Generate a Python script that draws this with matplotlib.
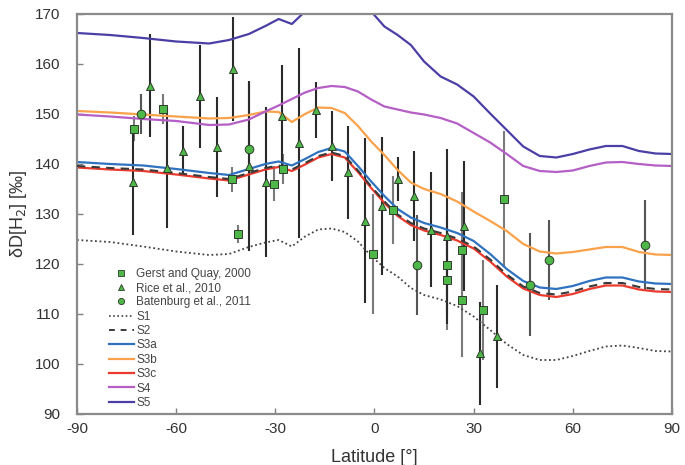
import matplotlib
matplotlib.use('Agg')
import matplotlib.pyplot as plt
from matplotlib.lines import Line2D
import numpy as np

plt.rcParams['font.family'] = ['Liberation Sans Narrow', 'Liberation Sans', 'DejaVu Sans']
plt.rcParams['axes.unicode_minus'] = False

# model latitude grid
lat = [-90, -80, -70, -60, -50, -44, -38, -33, -29, -25, -21, -17, -13, -9, -5, -1,
       3, 7, 11, 15, 20, 25, 30, 35, 40, 45, 50, 55, 60, 65, 70, 75, 80, 85, 90]

s1 = [124.8, 124.4, 123.5, 122.5, 121.8, 122.0, 123.4, 124.3, 124.8, 123.5, 125.5, 126.9,
      127.1, 126.4, 124.5, 121.6, 119.2, 117.5, 115.2, 113.8, 112.9, 111.6, 109.5, 106.8,
      104.0, 101.8, 100.8, 100.8, 101.6, 102.6, 103.5, 103.7, 103.2, 102.6, 102.5]
s2 = [139.6, 139.2, 138.9, 138.2, 137.4, 137.0, 138.2, 139.2, 139.7, 138.9, 140.2, 141.6,
      142.3, 141.6, 138.7, 135.5, 132.5, 129.9, 128.2, 127.1, 126.2, 125.1, 123.5, 120.9,
      117.9, 115.5, 114.2, 113.9, 114.5, 115.5, 116.2, 116.2, 115.4, 115.0, 114.9]
s3a = [140.4, 140.0, 139.7, 139.0, 138.2, 137.8, 139.0, 140.0, 140.5, 139.7, 141.0, 142.4,
       143.2, 142.5, 139.6, 136.5, 133.6, 131.0, 129.3, 128.2, 127.3, 126.2, 124.6, 122.0,
       119.0, 116.6, 115.3, 115.0, 115.6, 116.6, 117.3, 117.3, 116.5, 116.1, 116.0]
s3b = [150.6, 150.3, 149.9, 149.5, 149.1, 149.2, 149.8, 150.5, 150.4, 148.4, 150.0, 151.3,
       151.2, 150.2, 147.6, 144.5, 141.8, 138.8, 136.3, 135.0, 134.0, 132.5, 130.5, 128.6,
       126.6, 124.0, 122.5, 122.1, 122.4, 122.9, 123.4, 123.4, 122.4, 121.9, 121.8]
s3c = [139.3, 138.9, 138.6, 137.9, 137.1, 136.7, 137.9, 138.9, 139.4, 138.6, 139.9, 141.3,
       142.0, 141.3, 138.4, 135.2, 132.2, 129.6, 127.8, 126.7, 125.8, 124.7, 123.1, 120.5,
       117.5, 115.1, 113.8, 113.4, 114.0, 115.0, 115.7, 115.7, 114.9, 114.5, 114.4]
s4 = [149.9, 149.5, 149.0, 148.6, 147.8, 147.9, 148.9, 150.5, 151.7, 153.0, 154.3, 155.2,
      155.6, 155.4, 154.5, 152.9, 151.5, 150.9, 150.3, 149.9, 149.2, 148.1, 146.2, 144.3,
      142.0, 139.6, 138.6, 138.4, 138.7, 139.6, 140.3, 140.4, 140.0, 139.7, 139.6]
s5 = [166.2, 165.8, 165.2, 164.5, 164.1, 164.8, 166.0, 167.6, 169.0, 168.0, 170.5, 173.0,
      175.0, 175.0, 173.0, 170.5, 167.5, 165.8, 163.8, 160.5, 157.5, 155.9, 153.5, 150.1,
      146.8, 143.5, 141.6, 141.3, 142.0, 142.9, 143.6, 143.6, 142.6, 142.1, 142.0]

# observations
gq_lat = [-72.8, -64.0, -43.2, -41.4, -30.4, -27.6, -0.3, 5.7, 21.8, 21.8, 26.4, 26.4, 32.9, 39.2]
gq_val = [147.0, 151.0, 136.9, 125.9, 136.0, 138.9, 121.9, 130.8, 119.8, 116.8, 122.8, 112.8, 110.8, 132.9]
gq_err = [2.5, 3.0, 2.5, 1.8, 3.5, 3.0, 12.0, 6.8, 10.0, 10.0, 11.5, 11.5, 10.0, 13.6]

rice_lat = [-73.0, -67.9, -62.9, -57.8, -52.8, -47.7, -42.7, -37.9, -32.8, -27.9, -22.8, -17.8,
            -12.8, -7.9, -2.9, 2.2, 7.2, 12.0, 17.1, 22.0, 27.1, 31.9, 37.0]
rice_val = [136.3, 155.6, 139.1, 142.5, 153.5, 143.3, 159.0, 139.5, 136.3, 149.6, 144.1, 150.8,
            143.5, 138.3, 128.6, 131.5, 136.9, 133.6, 126.8, 125.5, 127.6, 102.1, 105.5]
rice_err = [10.5, 10.3, 12.0, 5.0, 10.3, 10.0, 10.4, 17.0, 15.0, 10.2, 19.0, 5.6,
            7.0, 9.3, 16.5, 13.8, 4.4, 9.0, 11.5, 17.5, 13.0, 10.3, 10.3]

bat_lat = [-70.6, -37.9, 13.0, 47.0, 52.8, 81.8]
bat_val = [149.9, 142.9, 119.8, 115.8, 120.8, 123.8]
bat_err = [4.0, 13.5, 10.0, 10.3, 8.0, 9.0]

green = '#4db848'
edge = '#2f3a2c'

fig = plt.figure(figsize=(6.85, 4.65), dpi=100)
ax = fig.add_axes([0.1124, 0.1097, 0.8686, 0.8602])

# error bars first
ax.errorbar(gq_lat, gq_val, yerr=gq_err, fmt='none', ecolor='#7a7a7a', elinewidth=1.5, zorder=1)
ax.errorbar(bat_lat, bat_val, yerr=bat_err, fmt='none', ecolor='#555555', elinewidth=1.5, zorder=1)
ax.errorbar(rice_lat, rice_val, yerr=rice_err, fmt='none', ecolor='#2a2a2a', elinewidth=1.5, zorder=1)

# model curves
ax.plot(lat, s1, color='#444444', lw=1.3, ls=(0, (1, 1.5)), zorder=2)
ax.plot(lat, s3b, color='#f9a24b', lw=1.6, zorder=2)
ax.plot(lat, s4, color='#b45ec6', lw=1.6, zorder=2)
ax.plot(lat, s5, color='#4b3fa6', lw=1.6, zorder=2)
ax.plot(lat, s3a, color='#2f72bf', lw=1.6, zorder=2)
ax.plot(lat, s3c, color='#ec3b2e', lw=1.6, zorder=2)
ax.plot(lat, s2, color='#3a3a3a', lw=1.5, ls=(0, (4, 3)), zorder=3)

# markers
ax.plot(gq_lat, gq_val, 's', ms=6, mfc=green, mec=edge, mew=0.7, zorder=4)
ax.plot(rice_lat, rice_val, '^', ms=6, mfc=green, mec=edge, mew=0.7, zorder=4)
ax.plot(bat_lat, bat_val, 'o', ms=6.2, mfc=green, mec=edge, mew=0.7, zorder=4)

ax.set_xlim(-90, 90)
ax.set_ylim(90, 170)
ax.set_xticks(np.arange(-90, 91, 30))
ax.set_yticks(np.arange(90, 171, 10))
ax.tick_params(direction='in', length=4, width=1, color='#808080', labelsize=11, labelcolor='#333333')
ax.tick_params(axis='y', pad=12)
ax.tick_params(axis='x', pad=6)
for sp in ax.spines.values():
    sp.set_color('#8a8a8a')
    sp.set_linewidth(1.6)

ax.set_xlabel('Latitude [°]', fontsize=13, color='#333333', labelpad=9)
ax.set_ylabel(r'δD[H$_2$] [‰]', fontsize=13, color='#333333', labelpad=4)

handles = [
    Line2D([], [], ls='none', marker='s', ms=4.5, mfc=green, mec=edge, mew=0.6),
    Line2D([], [], ls='none', marker='^', ms=4.5, mfc=green, mec=edge, mew=0.6),
    Line2D([], [], ls='none', marker='o', ms=4.5, mfc=green, mec=edge, mew=0.6),
    Line2D([], [], color='#444444', lw=1.2, ls=(0, (1, 1.5))),
    Line2D([], [], color='#3a3a3a', lw=1.4, ls=(0, (3, 3))),
    Line2D([], [], color='#2f72bf', lw=1.6),
    Line2D([], [], color='#f9a24b', lw=1.6),
    Line2D([], [], color='#ec3b2e', lw=1.6),
    Line2D([], [], color='#b45ec6', lw=1.6),
    Line2D([], [], color='#4b3fa6', lw=1.6),
]
labels = ['Gerst and Quay, 2000', 'Rice et al., 2010', 'Batenburg et al., 2011',
          'S1', 'S2', 'S3a', 'S3b', 'S3c', 'S4', 'S5']
leg = ax.legend(handles, labels, loc='lower left', bbox_to_anchor=(0.04, -0.008), frameon=False,
                fontsize=8.5, handlelength=2.1, handletextpad=0.2, labelspacing=0.2,
                borderaxespad=0.3)
for t in leg.get_texts():
    t.set_color('#444444')

fig.savefig('out.png', dpi=100)
